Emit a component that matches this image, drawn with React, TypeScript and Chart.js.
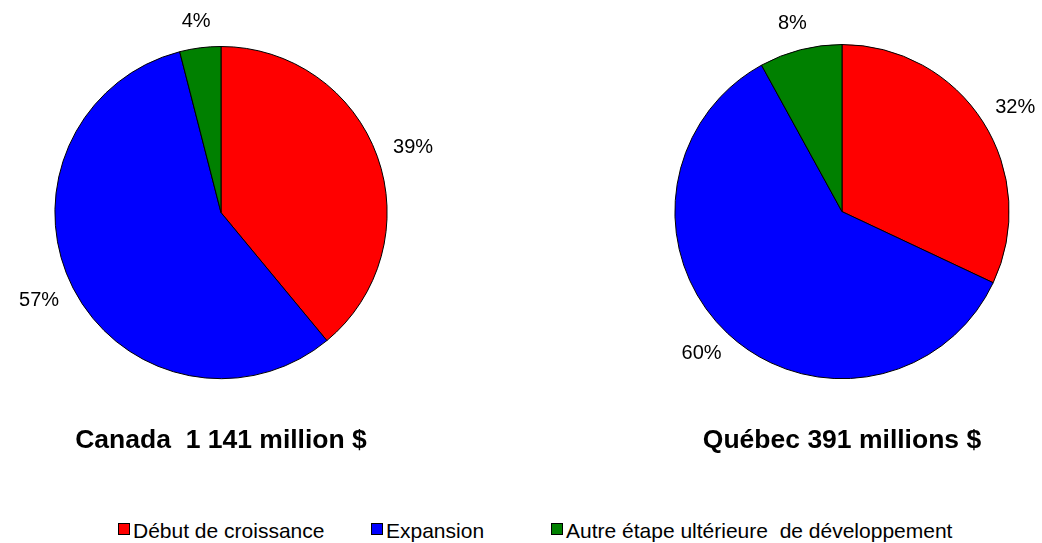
import React, { useEffect, useRef } from "react";
import { Chart, registerables } from "chart.js";

Chart.register(...registerables);

const categories = ["Début de croissance", "Expansion", "Autre étape ultérieure  de développement"];
const canadaValues = [39, 57, 4];
const quebecValues = [32, 60, 8];
const canadaTitle = "Canada  1 141 million $";
const quebecTitle = "Québec 391 millions $";
const sliceColors = ["#FF0000", "#0000FF", "#008000"];

const FONT = "'Liberation Sans', Arial, sans-serif";

const outsideLabels = {
  id: "outsideLabels",
  afterDatasetsDraw(chart: any) {
    const ctx = chart.ctx;
    const meta = chart.getDatasetMeta(0);
    const data = chart.data.datasets[0].data as number[];
    const total = data.reduce((a, b) => a + b, 0);
    ctx.save();
    ctx.font = `20px ${FONT}`;
    ctx.fillStyle = "#000";
    ctx.textAlign = "center";
    ctx.textBaseline = "middle";
    meta.data.forEach((arc: any, i: number) => {
      const a = (arc.startAngle + arc.endAngle) / 2;
      const r = arc.outerRadius + 18;
      const text = Math.round((data[i] / total) * 100) + "%";
      const w = ctx.measureText(text).width;
      const h = 18;
      const ax = arc.x + r * Math.cos(a);
      const ay = arc.y + r * Math.sin(a);
      const cx = ax + (w / 2) * Math.cos(a);
      const cy = ay + (h / 2) * Math.sin(a);
      ctx.fillText(text, cx, cy);
    });
    ctx.restore();
  },
};

function PieCanvas(props: {
  values: number[];
  title: string;
  left: number;
  width: number;
  padLeft: number;
  padRight: number;
  padTop: number;
}) {
  const ref = useRef<HTMLCanvasElement>(null);
  useEffect(() => {
    if (!ref.current) return;
    const chart = new Chart(ref.current, {
      type: "pie",
      data: {
        labels: categories,
        datasets: [
          {
            data: props.values,
            backgroundColor: sliceColors,
            borderColor: "#000",
            borderWidth: 1,
          },
        ],
      },
      options: {
        responsive: false,
        animation: false,
        layout: {
          padding: { left: props.padLeft, right: props.padRight, top: props.padTop, bottom: 13 },
        },
        plugins: {
          legend: { display: false },
          tooltip: { enabled: false },
          title: {
            display: true,
            text: props.title,
            position: "bottom",
            color: "#000",
            font: { family: FONT, size: 26.5, weight: "bold", lineHeight: 1.2 },
            padding: { top: 46, bottom: 0 },
          },
        },
      },
      plugins: [outsideLabels],
    });
    return () => chart.destroy();
  }, []);
  return (
    <canvas
      ref={ref}
      width={props.width}
      height={470}
      style={{ position: "absolute", left: props.left, top: 0, width: props.width, height: 470 }}
    />
  );
}

function LegendItem(props: { color: string; label: string; left: number }) {
  return (
    <div
      style={{
        position: "absolute",
        left: props.left,
        top: 520,
        height: 22,
        lineHeight: "21px",
        fontFamily: FONT,
        fontSize: 21,
        color: "#000",
        whiteSpace: "pre",
        display: "flex",
        alignItems: "flex-start",
      }}
    >
      <span
        style={{
          display: "inline-block",
          boxSizing: "border-box",
          width: 12,
          height: 12,
          marginTop: 3,
          marginRight: 3,
          background: props.color,
          border: "1px solid #000",
        }}
      />
      <span>{props.label}</span>
    </div>
  );
}

export default function App() {
  const legendLefts = [118, 371, 551];
  return (
    <div
      style={{
        position: "fixed",
        left: 0,
        top: 0,
        width: 1042,
        height: 543,
        background: "#fff",
        overflow: "hidden",
      }}
    >
      <PieCanvas values={canadaValues} title={canadaTitle} left={0} width={442} padLeft={54} padRight={54} padTop={46} />
      <PieCanvas values={quebecValues} title={quebecTitle} left={642} width={400} padLeft={32} padRight={32} padTop={44} />
      {categories.map((c, i) => (
        <LegendItem key={c} color={sliceColors[i]} label={c} left={legendLefts[i]} />
      ))}
    </div>
  );
}
